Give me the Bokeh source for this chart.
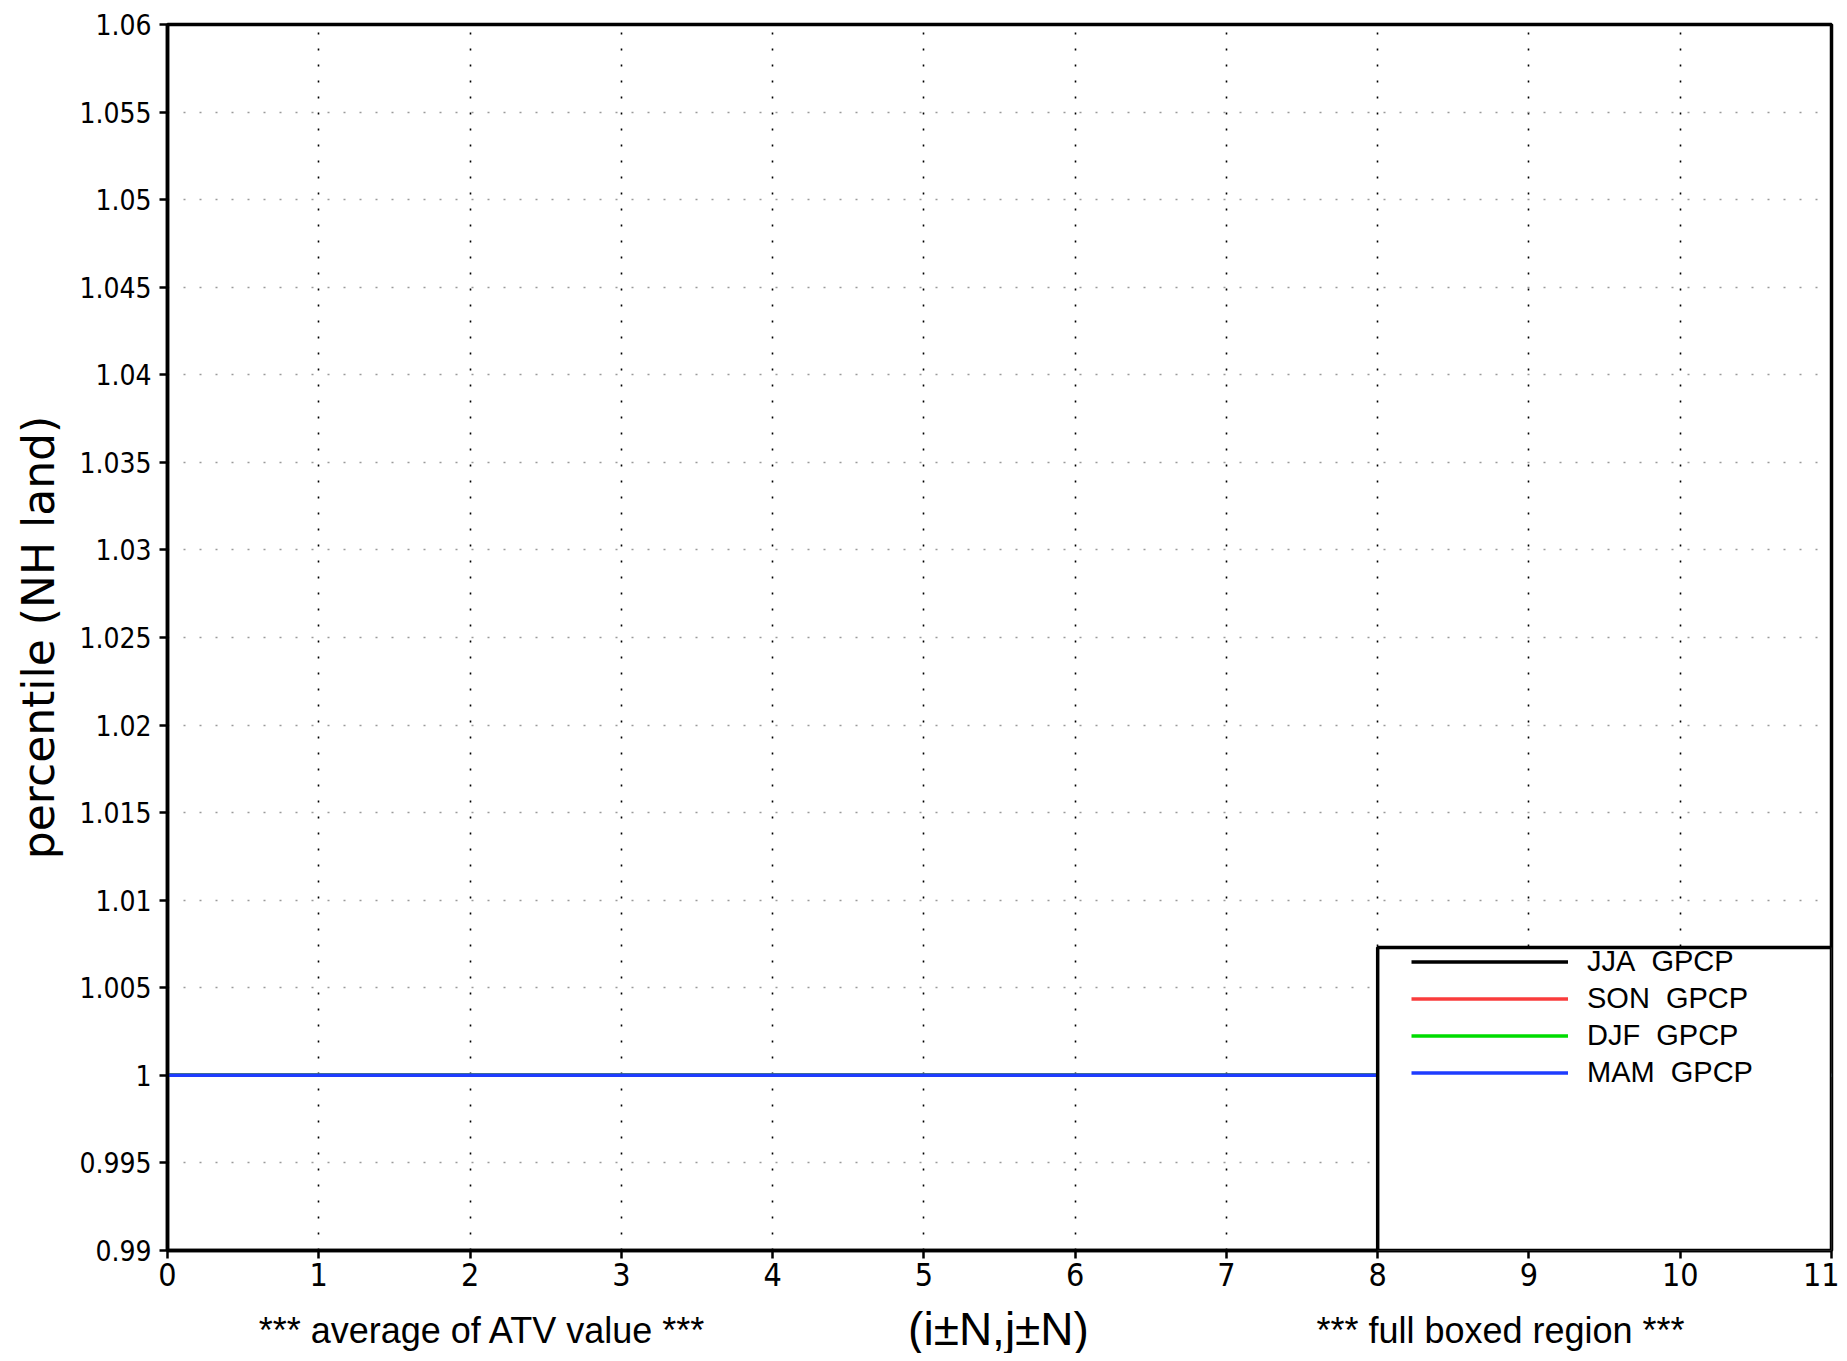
from bokeh.plotting import figure
from bokeh.layouts import column
from bokeh.models import (Range1d, FixedTicker, Legend, LegendItem, BoxAnnotation, Label)
from bokeh.embed import file_html
from bokeh.resources import INLINE

# ---- data ----
n_values = [0, 1, 2, 3, 4, 5, 6, 7, 8, 9, 10, 11]
jja_gpcp = [1.0, 1.0, 1.0, 1.0, 1.0, 1.0, 1.0, 1.0, 1.0, 1.0, 1.0, 1.0]
son_gpcp = [1.0, 1.0, 1.0, 1.0, 1.0, 1.0, 1.0, 1.0, 1.0, 1.0, 1.0, 1.0]
djf_gpcp = [1.0, 1.0, 1.0, 1.0, 1.0, 1.0, 1.0, 1.0, 1.0, 1.0, 1.0, 1.0]
mam_gpcp = [1.0, 1.0, 1.0, 1.0, 1.0, 1.0, 1.0, 1.0, 1.0, 1.0, 1.0, 1.0]
series_names = ["JJA\u00a0\u00a0GPCP", "SON\u00a0\u00a0GPCP", "DJF\u00a0\u00a0GPCP", "MAM\u00a0\u00a0GPCP"]
series_colors = ["#000000", "#fa3c3c", "#00dc00", "#1e3cff"]

x_ticks = [0, 1, 2, 3, 4, 5, 6, 7, 8, 9, 10, 11]
y_ticks = [0.99, 0.995, 1.0, 1.005, 1.01, 1.015, 1.02, 1.025, 1.03, 1.035,
           1.04, 1.045, 1.05, 1.055, 1.06]
y_tick_labels = ["0.99", "0.995", "1", "1.005", "1.01", "1.015", "1.02", "1.025",
                 "1.03", "1.035", "1.04", "1.045", "1.05", "1.055", "1.06"]

NARROW = "'Liberation Sans Narrow', 'DejaVu Sans Condensed', 'Liberation Sans', sans-serif"
ROUND = "'Liberation Sans', sans-serif"
WIDE = "'DejaVu Sans', sans-serif"

p = figure(frame_width=1664, frame_height=1226, output_backend="svg", toolbar_location=None,
           x_range=Range1d(0, 11), y_range=Range1d(0.99, 1.06),
           min_border_left=167, min_border_right=8, min_border_top=24, min_border_bottom=50)
p.background_fill_color = "white"
p.border_fill_color = "white"
p.outline_line_color = "black"
p.outline_line_width = 3.5

# grids
p.xgrid.ticker = FixedTicker(ticks=x_ticks)
p.ygrid.ticker = FixedTicker(ticks=y_ticks)
p.xgrid.grid_line_color = "black"
p.xgrid.grid_line_width = 1.6
p.xgrid.grid_line_dash = "2 14"
p.ygrid.grid_line_color = "#9a9a9a"
p.ygrid.grid_line_width = 1.6
p.ygrid.grid_line_dash = "2 14"

# axes
for ax in (p.xaxis[0], p.yaxis[0]):
    ax.axis_line_width = 3.5
    ax.axis_line_color = "black"
    ax.major_tick_out = 8
    ax.major_tick_in = 0
    ax.major_tick_line_width = 2.5
    ax.minor_tick_line_color = None
    ax.major_label_text_color = "black"
    ax.major_label_text_font = NARROW

p.xaxis.ticker = FixedTicker(ticks=x_ticks)
p.xaxis.major_label_text_font_size = "32px"
p.xaxis.major_label_standoff = 4
p.yaxis.ticker = FixedTicker(ticks=y_ticks)
p.yaxis.major_label_overrides = {v: s for v, s in zip(y_ticks, y_tick_labels)}
p.yaxis.major_label_text_font_size = "28px"
p.yaxis.major_label_standoff = 8
p.yaxis.axis_label = "percentile (NH land)"
p.yaxis.axis_label_text_font = WIDE
p.yaxis.axis_label_text_font_size = "44px"
p.yaxis.axis_label_text_font_style = "normal"
p.yaxis.axis_label_text_color = "black"
p.yaxis.axis_label_standoff = 12

# series
renderers = []
for ys, c in zip([jja_gpcp, son_gpcp, djf_gpcp, mam_gpcp], series_colors):
    r = p.line(n_values, ys, line_color=c, line_width=3.5)
    renderers.append(r)

# legend box
box = BoxAnnotation(left=8, right=11, bottom=0.99, top=1.0073,
                    fill_color="white", fill_alpha=1.0,
                    line_color="black", line_alpha=1.0, line_width=3.5)
p.add_layout(box)

legend = Legend(items=[LegendItem(label=n, renderers=[r]) for n, r in zip(series_names, renderers)],
                location=(1244, 159.5), glyph_width=157, glyph_height=37, label_height=37,
                spacing=0, padding=0, margin=0, label_standoff=19,
                border_line_alpha=0, background_fill_alpha=0,
                label_text_font=ROUND, label_text_font_size="29px", label_text_color="black")
p.add_layout(legend)

# strip with the bottom texts (its frame is aligned with the main frame)
p2 = figure(width=1839, height=53, output_backend="svg", toolbar_location=None,
            x_range=Range1d(0, 1), y_range=Range1d(0, 1),
            x_axis_type=None, y_axis_type=None, min_border=0)
p2.outline_line_color = None
p2.grid.visible = False
p2.background_fill_color = "white"
p2.border_fill_color = "white"

p2.add_layout(Label(x=315, y=23, x_units="screen", y_units="screen",
                    text="*** average of ATV value ***",
                    text_align="center", text_baseline="middle",
                    text_font=ROUND, text_font_size="36px", text_color="black"))
p2.add_layout(Label(x=831, y=25, x_units="screen", y_units="screen",
                    text="(i\u00b1N,j\u00b1N)",
                    text_align="center", text_baseline="middle",
                    text_font=ROUND, text_font_size="46px", text_color="black"))
p2.add_layout(Label(x=1333, y=23, x_units="screen", y_units="screen",
                    text="*** full boxed region ***",
                    text_align="center", text_baseline="middle",
                    text_font=ROUND, text_font_size="36px", text_color="black"))

layout = column(p, p2, spacing=0)
open("out.html", "w").write(file_html(layout, INLINE))
